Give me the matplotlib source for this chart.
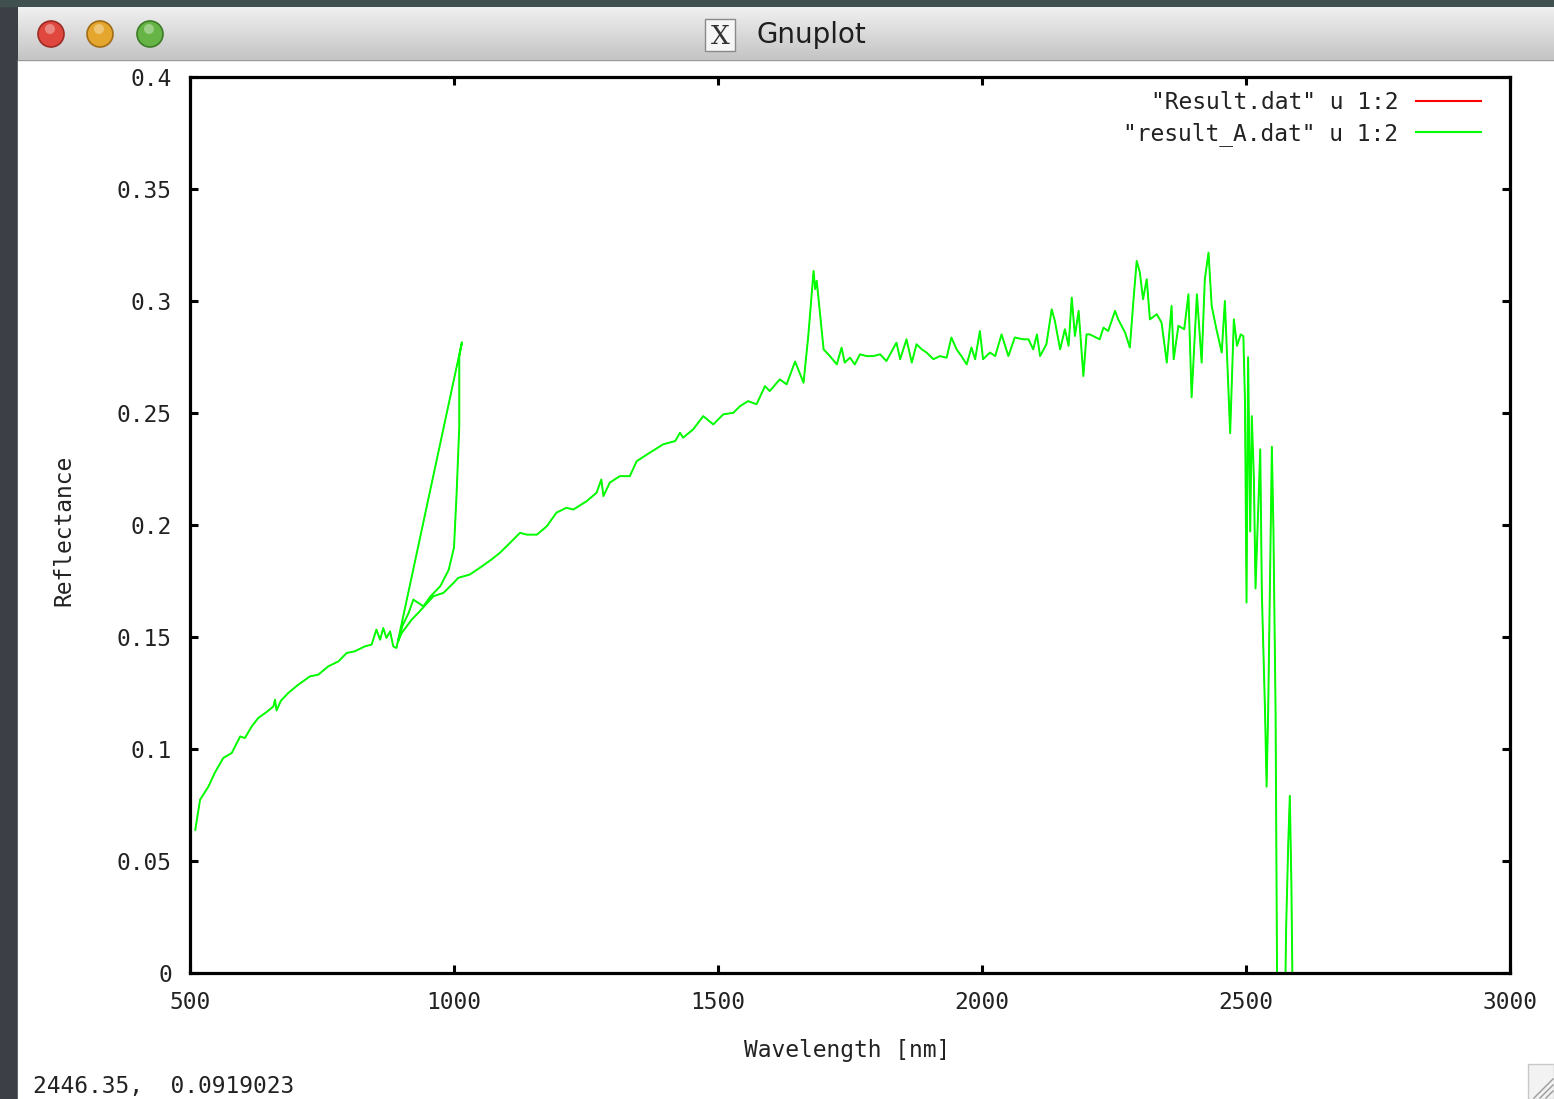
import matplotlib
matplotlib.use("Agg")
import matplotlib.pyplot as plt
import numpy as np
from matplotlib.patches import Rectangle, Circle
from matplotlib.colors import LinearSegmentedColormap
from matplotlib.lines import Line2D

# ---------------- data ----------------
wavelength = [
    510, 519, 535, 547, 563, 579, 595, 604, 617, 629, 645, 658, 661, 664, 672,
    686, 705, 727, 743, 762, 781, 797, 812, 831, 844, 853, 860, 866, 872, 879,
    885, 891,
    1015, 1010, 1010, 1005, 1000, 990, 974, 955, 942, 923, 914, 902, 894,
    901, 920, 932, 961, 980, 999, 1008, 1030, 1049, 1071, 1087, 1106, 1125,
    1138, 1157, 1176, 1194, 1213, 1226, 1251, 1270, 1279, 1283, 1295, 1314,
    1333, 1346, 1371, 1396, 1419, 1428, 1434, 1453, 1472, 1491, 1510, 1529,
    1542, 1557, 1573, 1589, 1598, 1617, 1630, 1646, 1662, 1671, 1681, 1684,
    1687, 1693, 1700, 1712, 1725, 1734, 1740, 1750, 1759, 1769, 1782, 1794,
    1807, 1819, 1838, 1845, 1857, 1867, 1876, 1886, 1895, 1908, 1920, 1933,
    1942, 1952, 1961, 1971, 1980, 1987, 1996, 2002, 2015, 2025, 2037, 2050,
    2062, 2078, 2088, 2097, 2104, 2110, 2122, 2132, 2138, 2148, 2157, 2164,
    2170, 2176, 2183, 2192, 2198, 2204, 2223, 2230, 2239, 2252, 2258, 2271,
    2280, 2287, 2293, 2299, 2305, 2312, 2318, 2331, 2340, 2350, 2359, 2363,
    2372, 2383, 2391, 2397, 2407, 2416, 2422, 2429, 2435, 2444, 2454, 2460,
    2470, 2477, 2483, 2490, 2495, 2498, 2501, 2504, 2508, 2511, 2515, 2518,
    2527, 2530, 2536, 2539, 2542, 2549, 2552, 2556, 2560, 2572, 2576, 2580,
    2583, 2586, 2590, 2600,
]
reflectance = [
    0.0639, 0.0773, 0.0833, 0.0894, 0.0960, 0.0982, 0.1056, 0.1049, 0.1101,
    0.1138, 0.1165, 0.1190, 0.1220, 0.1172, 0.1215, 0.1250, 0.1287, 0.1324,
    0.1332, 0.1369, 0.1391, 0.1429, 0.1436, 0.1458, 0.1466, 0.1533, 0.1488,
    0.1540, 0.1496, 0.1525, 0.1458, 0.1451,
    0.2816, 0.2750, 0.2440, 0.2144, 0.1900, 0.1800, 0.1727, 0.1680, 0.1637,
    0.1667, 0.1607, 0.1548, 0.1480,
    0.1518, 0.1578, 0.1607, 0.1682, 0.1697, 0.1741, 0.1764, 0.1779, 0.1809,
    0.1846, 0.1876, 0.1920, 0.1965, 0.1957, 0.1957, 0.1995, 0.2055, 0.2077,
    0.2069, 0.2106, 0.2144, 0.2203, 0.2129, 0.2189, 0.2218, 0.2218, 0.2285,
    0.2323, 0.2360, 0.2375, 0.2412, 0.2390, 0.2427, 0.2486, 0.2449, 0.2494,
    0.2501, 0.2531, 0.2553, 0.2539, 0.2620, 0.2598, 0.2650, 0.2628, 0.2730,
    0.2635, 0.2844, 0.3134, 0.3053, 0.3090, 0.2948, 0.2784, 0.2754, 0.2717,
    0.2792, 0.2725, 0.2747, 0.2717, 0.2762, 0.2754, 0.2754, 0.2762, 0.2732,
    0.2814, 0.2740, 0.2829, 0.2725, 0.2807, 0.2784, 0.2770, 0.2740, 0.2754,
    0.2747, 0.2837, 0.2784, 0.2754, 0.2717, 0.2792, 0.2740, 0.2866, 0.2740,
    0.2770, 0.2754, 0.2851, 0.2754, 0.2837, 0.2829, 0.2829, 0.2784, 0.2851,
    0.2754, 0.2807, 0.2963, 0.2911, 0.2784, 0.2874, 0.2800, 0.3015, 0.2844,
    0.2956, 0.2665, 0.2851, 0.2851, 0.2829, 0.2881, 0.2866, 0.2956, 0.2918,
    0.2859, 0.2792, 0.3008, 0.3179, 0.3127, 0.3008, 0.3097, 0.2918, 0.2941,
    0.2904, 0.2725, 0.2978, 0.2740, 0.2889, 0.2874, 0.3030, 0.2570, 0.3030,
    0.2725, 0.3097, 0.3216, 0.2978, 0.2874, 0.2770, 0.3000, 0.2410, 0.2918,
    0.2800, 0.2851, 0.2843, 0.2561, 0.1654, 0.2749, 0.1971, 0.2486, 0.2203,
    0.1717, 0.2338, 0.1696, 0.1171, 0.0832, 0.1171, 0.2349, 0.1971, 0.1171,
    -0.0500, -0.0500, 0.0200, 0.0579, 0.0791, 0.0390, -0.0500, -0.1000,
]
xticks = [500, 1000, 1500, 2000, 2500, 3000]
yticks = [0, 0.05, 0.1, 0.15, 0.2, 0.25, 0.3, 0.35, 0.4]
ytick_labels = ['0', '0.05', '0.1', '0.15', '0.2', '0.25', '0.3', '0.35', '0.4']
series_labels = ['"Result.dat" u 1:2', '"result_A.dat" u 1:2']
series_colors = ['#ff0000', '#00ff00']
xlabel = 'Wavelength [nm]'
ylabel = 'Reflectance'
window_title = 'Gnuplot'
status_text = '2446.35,  0.0919023'

MONO = ['DejaVu Sans Mono']
plt.rcParams['font.family'] = MONO

W, H = 1554, 1099
fig = plt.figure(figsize=(W / 100, H / 100), dpi=100)

# ---------------- window chrome ----------------
bg = fig.add_axes([0, 0, 1, 1])
bg.axis('off')
bg.add_patch(Rectangle((0, 0), W, H, color='#3c4046', zorder=0))
bg.add_patch(Rectangle((0, 0), W, 6, color='#3f504e', zorder=0.5))
grad = np.linspace(0, 1, 60).reshape(-1, 1)
cm = LinearSegmentedColormap.from_list('tb', ['#f0f0f0', '#c4c4c4'])
bg.imshow(grad, extent=(18, W, 60, 7), cmap=cm, aspect='auto', origin='upper', zorder=1)
bg.add_patch(Rectangle((18, 60), W - 18, H - 60, color='white', zorder=1))
bg.plot([18, W], [60, 60], color='#9a9a9a', lw=1, zorder=2)
for cx, fc, ec in [(51, '#e0473f', '#9c2b25'), (100, '#e4a62c', '#a06d16'), (150, '#66b446', '#3d7b28')]:
    bg.add_patch(Circle((cx, 34), 13, fc=fc, ec=ec, lw=1.2, zorder=3))
    bg.add_patch(Circle((cx - 1, 29), 5, fc='white', alpha=0.35, ec='none', zorder=4))
bg.add_patch(Rectangle((705, 19), 30, 32, fc='#f6f6f6', ec='#8a8a8a', lw=1, zorder=3))
bg.text(720, 36, 'X', ha='center', va='center', fontsize=19, family='DejaVu Serif',
        color='#333333', zorder=4)
bg.text(756, 35, window_title, ha='left', va='center', fontsize=20,
        family='DejaVu Sans', color='#1e1e1e', zorder=4)
bg.text(33, 1086, status_text, ha='left', va='center', fontsize=16.5, color='#222222', zorder=4)
# resize grip
bg.add_patch(Rectangle((1528, 1064), 26, 35, fc='#f2f2f2', ec='#c8c8c8', lw=1, zorder=3))
for d in (8, 14, 20):
    bg.plot([W - d, W - 1], [1098, 1098 - d + 1], color='#9a9a9a', lw=1, zorder=4)
bg.set_xlim(0, W)
bg.set_ylim(H, 0)

# ---------------- plot ----------------
ax = fig.add_axes([190 / W, (H - 973) / H, 1320 / W, 896 / H])
# the red series lies completely under the green one
ax.plot(wavelength, reflectance, color=series_colors[0], lw=0.6)
ax.plot(wavelength, reflectance, color=series_colors[1], lw=1.4)
ax.set_xlim(500, 3000)
ax.set_ylim(0, 0.4)
ax.set_xticks(xticks)
ax.set_xticklabels([str(v) for v in xticks])
ax.set_yticks(yticks)
ax.set_yticklabels(ytick_labels)
ax.tick_params(direction='in', length=6, width=2.2, top=True, right=True,
               labelsize=16.5, pad=13, colors='black', labelcolor='#222222')
for s in ax.spines.values():
    s.set_linewidth(2.3)
ax.set_xlabel(xlabel, fontsize=16.5, color='#222222')
ax.xaxis.set_label_coords((847 - 190) / 1320, -(1050 - 973) / 896)
ax.xaxis.label.set_va('center')
ax.set_ylabel(ylabel, fontsize=16.5, color='#222222')
ax.yaxis.set_label_coords((64 - 190) / 1320, (973 - 530) / 896)
ax.yaxis.label.set_va('center')

handles = [Line2D([], [], color=c, lw=1.5) for c in series_colors]
leg = ax.legend(handles, series_labels, loc='upper right',
                bbox_to_anchor=((1481 - 190) / 1320, 1 - 14 / 896),
                frameon=False, markerfirst=False, borderaxespad=0, borderpad=0,
                handlelength=2.85, handletextpad=0.75, labelspacing=0.33,
                prop={'family': MONO, 'size': 16.5})
for t in leg.get_texts():
    t.set_color('#222222')

fig.savefig('out.png', dpi=100)
